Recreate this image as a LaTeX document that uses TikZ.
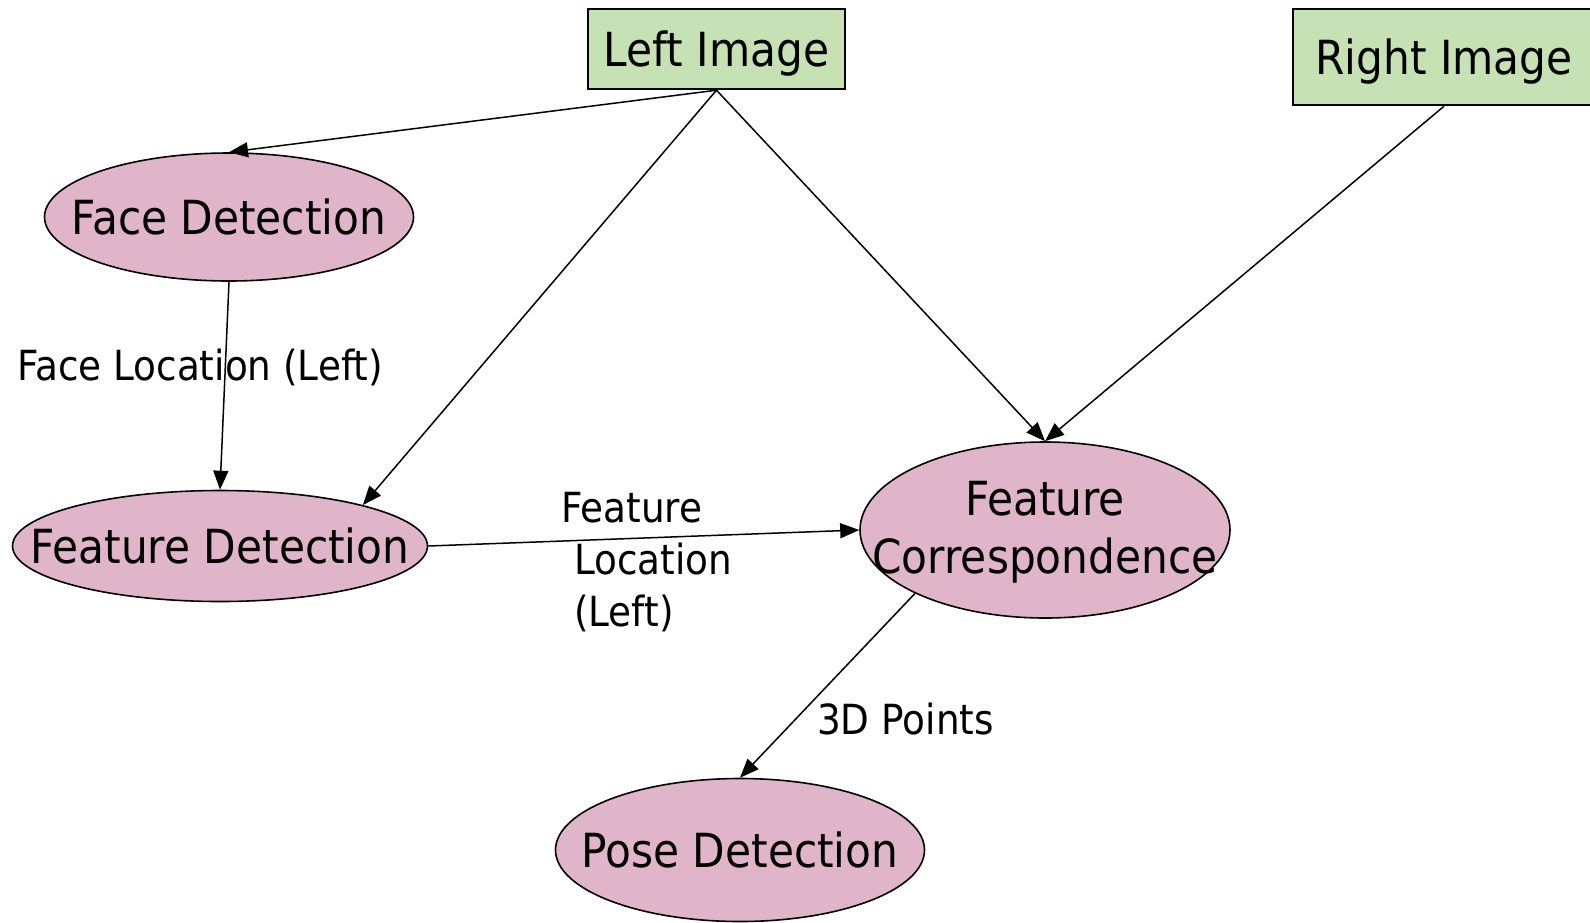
\documentclass[tikz,border=0pt]{standalone}
\usepackage{fontspec}
\setmainfont{DejaVu Sans}[FakeStretch=0.9]
\usetikzlibrary{shapes.geometric,arrows.meta}
\definecolor{imggreen}{RGB}{198,225,179}
\definecolor{procpink}{RGB}{225,181,201}
\tikzset{
  imgbox/.style={draw=black, line width=2.4pt, fill=imggreen, rectangle, inner sep=0pt, text depth=0pt},
  procell/.style={draw=black, line width=1.6pt, fill=procpink, ellipse, inner sep=0pt},
  bigtext/.style={font=\fontsize{47}{58}\selectfont, inner sep=0pt, align=center},
  edgelabel/.style={font=\fontsize{41.5}{52}\selectfont, inner sep=0pt, align=left},
  flow/.style={draw=black, line width=1.5pt, -{Triangle[length=19pt,width=15pt]}}
}
\begin{document}
\begin{tikzpicture}[x=1pt,y=-1pt]
\useasboundingbox (0,0) rectangle (1590,922);

% input images
\node[imgbox, minimum width=257pt, minimum height=80pt, bigtext] (li) at (716.5,49) {Left Image};
\node[imgbox, minimum width=302pt, minimum height=96pt, bigtext] (ri) at (1444,57) {Right Image};

% processing stages
\node[procell, minimum width=369pt, minimum height=128pt] (face) at (229,217) {};
\node[bigtext] (facet) at (face) {Face Detection};

\node[procell, minimum width=415pt, minimum height=111pt] (feat) at (220,546) {};
\node[bigtext] (featt) at (feat) {Feature Detection};

\node[procell, minimum width=370pt, minimum height=176pt] (corr) at (1045,530) {};
\node[bigtext] (corrt) at (1045,532) {Feature\\Correspondence};

\node[procell, minimum width=369pt, minimum height=143pt] (pose) at (740,850) {};
\node[bigtext] (poset) at (pose) {Pose Detection};

% data flow
\draw[flow] (li.south) -- (face.north);
\draw[flow] (li.south) -- (feat.16);
\draw[flow] (li.south) -- (corr.north);
\draw[flow] (ri.south) -- (corr.north);
\draw[flow] (face.south) -- (feat.north);
\draw[flow] (feat.east) -- (corr.west);
\draw[flow] (corr.206) -- (pose.north);

% edge labels
\node[edgelabel, anchor=west] (lbl1) at (17,367) {Face Location (Left)};
\node[edgelabel, anchor=west] (lbl2) at (561,562) {Feature\\\hspace*{13pt}Location\\\hspace*{13pt}(Left)};
\node[edgelabel, anchor=west] (lbl3) at (817,719) {3D Points};
\end{tikzpicture}
\end{document}
